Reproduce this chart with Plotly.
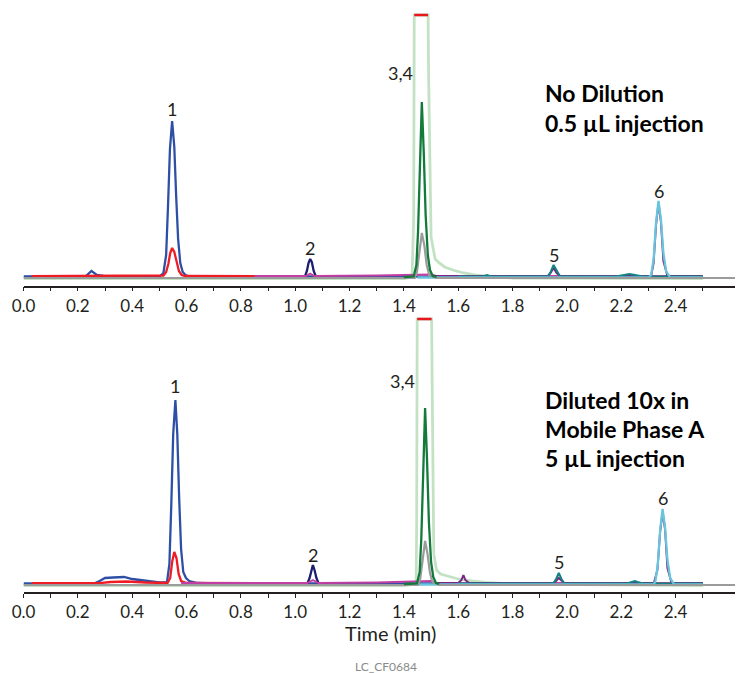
import plotly.graph_objects as go

# ---------------- data (time in min, signal in arbitrary units) ----------------
tick_vals = [0.0, 0.2, 0.4, 0.6, 0.8, 1.0, 1.2, 1.4, 1.6, 1.8, 2.0, 2.2, 2.4]
tick_text = ["0.0", "0.2", "0.4", "0.6", "0.8", "1.0", "1.2", "1.4", "1.6", "1.8", "2.0", "2.2", "2.4"]
minor_vals = [0.1, 0.3, 0.5, 0.7, 0.9, 1.1, 1.3, 1.5, 1.7, 1.9, 2.1, 2.3, 2.5]

# --- top panel: No Dilution, 0.5 uL injection ---
top_pale_t = [0.0, 1.40, 1.430, 1.436, 1.438, 1.489, 1.491, 1.500, 1.515, 1.530, 1.550, 1.580, 1.620, 1.660, 1.720, 1.80, 2.50]
top_pale_y = [-1.5, -1.5, 0, 60, 262, 262, 200, 40, 18, 14, 10, 7, 4, 2, 0.5, -1, -1.5]
top_blue_t = [0.0, 0.20, 0.23, 0.25, 0.27, 0.30, 0.50, 0.515, 0.525, 0.532, 0.539, 0.547, 0.555, 0.562, 0.569, 0.577, 0.586, 0.596, 0.61, 1.0, 2.5]
top_blue_y = [0.5, 0.5, 1, 6, 2, 0.8, 0.5, 4, 22, 72, 128, 156, 130, 80, 38, 14, 5, 2, 0.5, 0.5, 0.3]
top_red_t = [0.03, 0.23, 0.25, 0.28, 0.50, 0.515, 0.525, 0.533, 0.540, 0.547, 0.555, 0.563, 0.572, 0.582, 0.595, 0.95]
top_red_y = [0.8, 0.8, 1.5, 0.8, 0.8, 1.5, 5, 13, 24, 29, 25, 15, 6, 2, 1, 0.8]
top_navy_t = [1.0, 1.036, 1.043, 1.049, 1.055, 1.061, 1.068, 1.076, 1.10]
top_navy_y = [0, 0.5, 6, 14, 18, 15, 6, 0.5, 0]
top_mag_t = [0.85, 1.04, 1.055, 1.07, 1.30, 1.43, 1.50, 1.52, 1.90, 2.50]
top_mag_y = [1, 1, 3.5, 1, 1.5, 2.5, 2.5, 1.2, 1.2, 1]
top_purple_t = [1.50, 1.93, 1.94, 1.951, 1.962, 1.975, 2.10, 2.31, 2.319, 2.328, 2.337, 2.346, 2.355, 2.37, 2.50]
top_purple_y = [1, 1, 4, 9, 4, 1, 1, 1, 14, 52, 74, 55, 16, 1, 1]
top_teal_t = [1.60, 1.69, 1.706, 1.72, 1.93, 1.94, 1.951, 1.962, 1.975, 2.18, 2.21, 2.23, 2.25, 2.28, 2.50]
top_teal_y = [0.5, 0.5, 2, 0.5, 0.5, 5, 12, 6, 0.5, 0.5, 2, 3, 2, 0.5, 0.5]
top_cyan_t = [1.45, 2.30, 2.31, 2.319, 2.328, 2.337, 2.346, 2.355, 2.365, 2.38, 2.50]
top_cyan_y = [-0.5, -0.5, 2, 18, 55, 76, 58, 24, 6, -0.5, -0.5]
top_gray_t = [0.0, 1.44, 1.448, 1.457, 1.466, 1.475, 1.484, 1.493, 1.52, 2.65]
top_gray_y = [-1, -1, 5, 26, 44, 32, 12, 2, -1, -1]
top_green_t = [1.40, 1.436, 1.446, 1.452, 1.459, 1.466, 1.473, 1.480, 1.488, 1.496, 1.506, 1.52]
top_green_y = [0, 0.5, 12, 45, 110, 175, 125, 62, 22, 7, 1, 0]
top_sat_t = [1.438, 1.489]
top_sat_y = [262, 262]

# --- bottom panel: Diluted 10x in Mobile Phase A, 5 uL injection ---
bot_pale_t = [0.0, 1.40, 1.445, 1.447, 1.449, 1.502, 1.504, 1.510, 1.520, 1.535, 1.560, 1.60, 1.65, 1.70, 1.80, 2.50]
bot_pale_y = [-1.5, -1.5, 0, 60, 265, 265, 200, 30, 14, 10, 8, 5, 3, 1.5, 0, -1.5]
bot_blue_t = [0.0, 0.26, 0.28, 0.30, 0.33, 0.37, 0.40, 0.45, 0.50, 0.528, 0.537, 0.544, 0.551, 0.559, 0.566, 0.573, 0.580, 0.588, 0.598, 0.61, 0.64, 0.70, 2.5]
bot_blue_y = [0.5, 0.5, 3, 6, 6.5, 7, 5, 3, 1.5, 1.5, 20, 80, 150, 184, 150, 85, 35, 12, 6, 3, 1, 0.5, 0.5]
bot_red_t = [0.03, 0.28, 0.32, 0.38, 0.45, 0.53, 0.540, 0.547, 0.555, 0.563, 0.571, 0.580, 0.60, 0.95]
bot_red_y = [0.8, 0.8, 2, 2.5, 1.5, 1, 6, 22, 32, 26, 10, 3, 1, 0.8]
bot_navy_t = [1.0, 1.045, 1.053, 1.059, 1.065, 1.071, 1.078, 1.086, 1.12]
bot_navy_y = [0, 0.5, 6, 14, 19, 14, 6, 0.5, 0]
bot_mag_t = [0.58, 1.045, 1.065, 1.085, 1.30, 1.43, 1.45, 1.50, 1.52, 1.90, 2.50]
bot_mag_y = [1, 1, 4, 1, 1.5, 2.5, 3, 3, 1.2, 1.2, 1]
bot_purple_t = [1.50, 1.60, 1.612, 1.619, 1.626, 1.64, 1.95, 1.96, 1.97, 1.98, 1.99, 2.32, 2.333, 2.343, 2.352, 2.361, 2.370, 2.385, 2.50]
bot_purple_y = [1, 1, 4, 9, 4, 1, 1, 3, 6, 3, 1, 1, 14, 52, 72, 55, 16, 1, 1]
bot_teal_t = [1.60, 1.95, 1.96, 1.97, 1.98, 1.99, 2.22, 2.24, 2.25, 2.26, 2.28, 2.50]
bot_teal_y = [0.5, 0.5, 5, 11, 5, 0.5, 0.5, 2, 3, 2, 0.5, 0.5]
bot_cyan_t = [1.45, 2.318, 2.325, 2.334, 2.343, 2.352, 2.361, 2.370, 2.380, 2.395, 2.50]
bot_cyan_y = [-0.5, -0.5, 2, 18, 54, 75, 57, 24, 6, -0.5, -0.5]
bot_gray_t = [0.0, 1.452, 1.460, 1.469, 1.478, 1.487, 1.496, 1.505, 1.53, 2.65]
bot_gray_y = [-1, -1, 5, 26, 43, 30, 11, 2, -1, -1]
bot_green_t = [1.40, 1.448, 1.458, 1.464, 1.471, 1.478, 1.485, 1.492, 1.500, 1.508, 1.518, 1.53]
bot_green_y = [0, 0.5, 12, 45, 110, 176, 125, 62, 22, 7, 1, 0]
bot_sat_t = [1.449, 1.502]
bot_sat_y = [265, 265]

# peak labels
peak_labels = ["1", "2", "3,4", "5", "6"]
top_label_t = [0.547, 1.055, 1.386, 1.951, 2.337]
top_label_y = [168, 29, 204, 22, 86]
bot_label_t = [0.559, 1.067, 1.393, 1.972, 2.352]
bot_label_y = [198, 29, 203, 22, 86]

top_text = ["No Dilution", "0.5 µL injection"]
bot_text = ["Diluted 10x in", "Mobile Phase A", "5 µL injection"]
x_title = "Time (min)"
footer = "LC_CF0684"

# ---------------- styles / geometry ----------------
OFF = 8                      # page offset of the figure (default body margin)
FW, FH = 743 - OFF, 673 - OFF

def px(xp):                  # page x pixel -> paper fraction
    return (xp - OFF) / FW

def py(yp):                  # page y pixel -> paper fraction
    return 1 - (yp - OFF) / FH

C = dict(pale="#c3e2c3", blue="#2e4fa6", red="#ee1c25", navy="#1c1d6e", mag="#c13ea2",
         purple="#7a2582", teal="#138283", cyan="#68c5dc", gray="#9b9b9b", green="#127a3b")
W = dict(pale=2.8, blue=2.3, red=2.3, navy=2.3, mag=1.8, purple=2, teal=2, cyan=2.3, gray=2.2, green=2.3)

fig = go.Figure()

def add(t, y, key, xa, ya):
    fig.add_trace(go.Scatter(x=t, y=y, mode="lines", xaxis=xa, yaxis=ya,
                             line=dict(color=C[key], width=W[key]), hoverinfo="skip"))

panels = [
    ("x", "y", dict(pale=(top_pale_t, top_pale_y), blue=(top_blue_t, top_blue_y), red=(top_red_t, top_red_y),
                    navy=(top_navy_t, top_navy_y), mag=(top_mag_t, top_mag_y), purple=(top_purple_t, top_purple_y),
                    teal=(top_teal_t, top_teal_y), cyan=(top_cyan_t, top_cyan_y), gray=(top_gray_t, top_gray_y),
                    green=(top_green_t, top_green_y)), (top_sat_t, top_sat_y)),
    ("x2", "y2", dict(pale=(bot_pale_t, bot_pale_y), blue=(bot_blue_t, bot_blue_y), red=(bot_red_t, bot_red_y),
                      navy=(bot_navy_t, bot_navy_y), mag=(bot_mag_t, bot_mag_y), purple=(bot_purple_t, bot_purple_y),
                      teal=(bot_teal_t, bot_teal_y), cyan=(bot_cyan_t, bot_cyan_y), gray=(bot_gray_t, bot_gray_y),
                      green=(bot_green_t, bot_green_y)), (bot_sat_t, bot_sat_y)),
]
for xa, ya, series, sat in panels:
    for key in ["pale", "blue", "red", "navy", "mag", "purple", "teal", "cyan", "gray", "green"]:
        t, y = series[key]
        add(t, y, key, xa, ya)
    fig.add_trace(go.Scatter(x=sat[0], y=sat[1], mode="lines", xaxis=xa, yaxis=ya,
                             line=dict(color="#e8161d", width=2.5), hoverinfo="skip"))

FONT = "Lato"
INK = "#231f20"
xaxis_common = dict(range=[0, 2.648], domain=[px(23.5), 1], showgrid=False, zeroline=False,
                    showline=True, linecolor=INK, linewidth=1.5, ticks="outside", ticklen=4,
                    tickwidth=1.2, tickcolor=INK, tickvals=tick_vals, ticktext=tick_text,
                    tickfont=dict(family=FONT, size=17, color=INK), automargin=False,
                    minor=dict(tickvals=minor_vals, ticks="outside", ticklen=4, tickwidth=1.2, tickcolor=INK))
yaxis_common = dict(visible=False, showgrid=False, zeroline=False, automargin=False)

fig.update_layout(
    width=FW, height=FH, margin=dict(l=0, r=0, t=0, b=0),
    paper_bgcolor="white", plot_bgcolor="white", showlegend=False,
    xaxis=dict(anchor="y", **xaxis_common),
    xaxis2=dict(anchor="y2", **xaxis_common),
    yaxis=dict(domain=[py(285.7), py(10)], range=[-8.7, 267], anchor="x", **yaxis_common),
    yaxis2=dict(domain=[py(592.3), py(315)], range=[-8.3, 269], anchor="x2", **yaxis_common),
)

ann = []
for lab, t, y in zip(peak_labels, top_label_t, top_label_y):
    ann.append(dict(x=t, y=y, xref="x", yref="y", text=lab, showarrow=False,
                    font=dict(family=FONT, size=18, color=INK), xanchor="center", yanchor="middle"))
for lab, t, y in zip(peak_labels, bot_label_t, bot_label_y):
    ann.append(dict(x=t, y=y, xref="x2", yref="y2", text=lab, showarrow=False,
                    font=dict(family=FONT, size=18, color=INK), xanchor="center", yanchor="middle"))
for i, line in enumerate(top_text):
    ann.append(dict(x=px(543), y=py(93.3 + 29.3 * i), xref="paper", yref="paper", text="<b>%s</b>" % line,
                    showarrow=False, font=dict(family=FONT, size=23, color="black"), xanchor="left", yanchor="middle"))
for i, line in enumerate(bot_text):
    ann.append(dict(x=px(543), y=py(400 + 29.2 * i), xref="paper", yref="paper", text="<b>%s</b>" % line,
                    showarrow=False, font=dict(family=FONT, size=23, color="black"), xanchor="left", yanchor="middle"))
ann.append(dict(x=px(390), y=py(632.7), xref="paper", yref="paper", text=x_title, showarrow=False,
                font=dict(family=FONT, size=20, color=INK), xanchor="center", yanchor="middle"))
ann.append(dict(x=px(386), y=py(666.5), xref="paper", yref="paper", text=footer, showarrow=False,
                font=dict(family=FONT, size=12, color="#8a8a8a"), xanchor="center", yanchor="middle"))
fig.update_layout(annotations=ann)

fig.write_html("out.html")
